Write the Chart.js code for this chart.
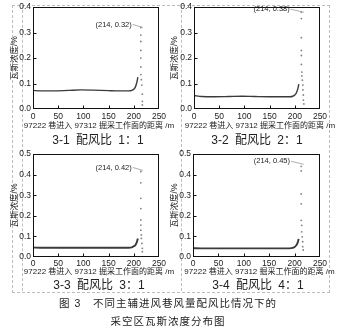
<!DOCTYPE html>
<html>
<head>
<meta charset="utf-8">
<script src="https://cdn.jsdelivr.net/npm/chart.js@4.4.0/dist/chart.umd.min.js"></script>
<style>
body { margin: 0; background: #fff; width: 347px; height: 329px; position: relative; overflow: hidden;
       font-family: 'Liberation Sans', 'Noto Sans CJK SC', sans-serif; }
canvas { position: absolute; }
.dash { position: absolute; border: 0 dashed #bdbdbd; }
.cap { position: absolute; font-size: 12px; color: #222; white-space: nowrap; transform: translateX(-50%); word-spacing: 3px; }
.fig { position: absolute; left: 0; width: 336px; text-align: center; font-size: 10.5px; letter-spacing: 1px; color: #222; white-space: pre; }
</style>
</head>
<body>
<div class="dash" style="left:12px;top:5px;width:316px;height:286px;border-width:1px;"></div>
<div class="dash" style="left:22px;top:5px;height:286px;border-left-width:1px;"></div>
<div class="dash" style="left:181px;top:5px;height:286px;border-left-width:1px;"></div>

<canvas id="c1" width="175" height="132" style="left:0px;top:0px"></canvas>
<canvas id="c2" width="175" height="132" style="left:160px;top:0px"></canvas>
<canvas id="c3" width="175" height="138" style="left:0px;top:140px"></canvas>
<canvas id="c4" width="175" height="138" style="left:160px;top:140px"></canvas>

<div class="cap" style="left:98px;top:130px">3-1 配风比 1：1</div>
<div class="cap" style="left:257px;top:130px">3-2 配风比 2：1</div>
<div class="cap" style="left:99px;top:275px">3-3 配风比 3：1</div>
<div class="cap" style="left:258px;top:275px">3-4 配风比 4：1</div>

<div class="fig" style="top:295px">图 3   不同主辅进风巷风量配风比情况下的</div>
<div class="fig" style="top:313px">采空区瓦斯浓度分布图</div>

<script>
// axis ticks
const xTicks = [0, 50, 100, 150, 200, 250];
const yTicksA = [0, 0.1, 0.2, 0.3, 0.4];
const yTicksB = [0, 0.1, 0.2, 0.3, 0.4, 0.5];

const xTitle = '97222 巷进入 97312 掘采工作面的距离 /m';
const yTitle = '瓦斯浓度/%';

// smooth concentration curve (same x positions for every panel)
const curveX = [0, 15, 40, 70, 95, 120, 150, 175, 190, 196, 200, 203, 205, 207, 208];
const curve1 = [0.073, 0.071, 0.071, 0.073, 0.075, 0.074, 0.072, 0.071, 0.071, 0.073, 0.078, 0.086, 0.097, 0.113, 0.125];
const curve2 = [0.053, 0.049, 0.048, 0.049, 0.050, 0.049, 0.048, 0.048, 0.048, 0.050, 0.055, 0.063, 0.073, 0.088, 0.098];
const curve3 = [0.046, 0.045, 0.045, 0.045, 0.045, 0.045, 0.045, 0.045, 0.045, 0.047, 0.052, 0.058, 0.066, 0.080, 0.090];
const curve4 = [0.043, 0.042, 0.042, 0.042, 0.042, 0.042, 0.042, 0.042, 0.042, 0.044, 0.049, 0.056, 0.064, 0.078, 0.088];

// sparse points near the working face
const dots1X = [214, 214, 214, 214, 214, 214, 214, 215, 216, 217, 217, 217];
const dots1Y = [0.32, 0.29, 0.265, 0.23, 0.2, 0.165, 0.135, 0.115, 0.094, 0.058, 0.03, 0.016];
const dots2X = [213, 213, 213, 213, 213, 213, 214, 214, 215, 216, 216, 217, 217, 218];
const dots2Y = [0.38, 0.355, 0.28, 0.23, 0.21, 0.175, 0.145, 0.13, 0.113, 0.094, 0.075, 0.055, 0.035, 0.02];
const dots3X = [214, 214, 214, 214, 214, 214, 214, 215, 215, 216, 217, 217];
const dots3Y = [0.415, 0.36, 0.285, 0.235, 0.18, 0.155, 0.13, 0.107, 0.09, 0.066, 0.042, 0.026];
const dots4X = [213, 213, 213, 213, 213, 214, 214, 215, 216, 216, 217];
const dots4Y = [0.44, 0.418, 0.306, 0.258, 0.178, 0.154, 0.122, 0.098, 0.074, 0.05, 0.034];

// peak annotation
const peakX = 214;
const peaks = [0.32, 0.38, 0.42, 0.45];

const FONT = "'Liberation Sans', 'Noto Sans CJK SC', sans-serif";

const panels = [
    { id: 'c1', left: 0,   top: 0,   w: 175, h: 132, plot: [33, 7, 159, 109],   yTicks: yTicksA, curve: curve1, dx: dots1X, dy: dots1Y, peak: peaks[0], labelEnd: 196, lw: 1.4, tickPad: 3,   titleGap: 17 },
    { id: 'c2', left: 160, top: 0,   w: 175, h: 132, plot: [194, 7, 320, 109],  yTicks: yTicksA, curve: curve2, dx: dots2X, dy: dots2Y, peak: peaks[1], labelEnd: 190, lw: 1.4, tickPad: 3,   titleGap: 17 },
    { id: 'c3', left: 0,   top: 140, w: 175, h: 138, plot: [33, 154, 159, 257], yTicks: yTicksB, curve: curve3, dx: dots3X, dy: dots3Y, peak: peaks[2], labelEnd: 196, lw: 1.9, tickPad: 1.5, titleGap: 15 },
    { id: 'c4', left: 160, top: 140, w: 175, h: 138, plot: [193, 154, 320, 257], yTicks: yTicksB, curve: curve4, dx: dots4X, dy: dots4Y, peak: peaks[3], labelEnd: 191, lw: 1.9, tickPad: 1.5, titleGap: 15 },
];

// frame, inward ticks, x title and the peak label
const framePlugin = {
    id: 'frame',
    afterDraw(chart, args, opts) {
        const { ctx, chartArea: a, scales: { x, y } } = chart;
        ctx.save();
        ctx.strokeStyle = '#111';
        ctx.lineWidth = 1;
        const L = Math.round(a.left) + 0.5, T = Math.round(a.top) + 0.5;
        const R = Math.round(a.right) - 0.5, B = Math.round(a.bottom) - 0.5;
        ctx.strokeRect(L, T, R - L, B - T);
        ctx.beginPath();
        x.ticks.forEach(t => {
            if (t.value <= x.min || t.value >= x.max) return;
            const px = Math.round(x.getPixelForValue(t.value)) + 0.5;
            ctx.moveTo(px, B); ctx.lineTo(px, B - 3);
        });
        y.ticks.forEach(t => {
            if (t.value <= y.min || t.value >= y.max) return;
            const py = Math.round(y.getPixelForValue(t.value)) + 0.5;
            ctx.moveTo(L, py); ctx.lineTo(L + 3, py);
        });
        ctx.stroke();

        // x axis title, not squeezed to the plot width
        ctx.font = '8px ' + FONT;
        ctx.fillStyle = '#222';
        ctx.textAlign = 'center';
        ctx.textBaseline = 'middle';
        ctx.fillText(xTitle, (a.left + a.right) / 2 + 3, a.bottom + opts.titleGap);

        // annotation
        const px = x.getPixelForValue(peakX), py = y.getPixelForValue(opts.peak);
        const lx = x.getPixelForValue(opts.labelEnd);
        ctx.font = '7.5px ' + FONT;
        ctx.textAlign = 'right';
        ctx.fillText('(' + peakX + ', ' + opts.peak.toFixed(2) + ')', lx, py - 3);
        ctx.strokeStyle = '#999';
        ctx.lineWidth = 0.8;
        ctx.beginPath();
        ctx.moveTo(lx + 1, py - 3);
        ctx.lineTo(px + 2, py);
        ctx.stroke();
        ctx.restore();
    }
};

panels.forEach(p => {
    const yAxisW = p.plot[0] - p.left;
    const padTop = p.plot[1] - p.top;
    const padRight = p.left + p.w - p.plot[2];
    const xAxisH = p.top + p.h - p.plot[3];
    const yMax = p.yTicks[p.yTicks.length - 1];

    new Chart(document.getElementById(p.id).getContext('2d'), {
        type: 'scatter',
        data: {
            datasets: [
                {
                    data: curveX.map((v, i) => ({ x: v, y: p.curve[i] })),
                    showLine: true,
                    borderColor: '#3a3a3a',
                    borderWidth: p.lw,
                    pointRadius: 0,
                    cubicInterpolationMode: 'monotone',
                },
                {
                    data: p.dx.map((v, i) => ({ x: v, y: p.dy[i] })),
                    showLine: false,
                    pointRadius: 0.9,
                    pointBorderWidth: 0,
                    backgroundColor: '#808080',
                    borderColor: '#808080',
                },
            ],
        },
        options: {
            responsive: false,
            animation: false,
            layout: { padding: { top: padTop, right: padRight, left: 0, bottom: 0 } },
            plugins: {
                legend: { display: false },
                tooltip: { enabled: false },
                frame: { peak: p.peak, labelEnd: p.labelEnd, titleGap: p.titleGap },
            },
            scales: {
                x: {
                    type: 'linear',
                    min: 0, max: 250,
                    grid: { display: false, drawTicks: false },
                    border: { display: false },
                    afterBuildTicks: s => { s.ticks = xTicks.map(v => ({ value: v })); },
                    afterFit: s => { s.height = xAxisH; },
                    ticks: { color: '#222', padding: p.tickPad, maxRotation: 0, font: { size: 8.5, family: FONT } },
                },
                y: {
                    min: 0, max: yMax,
                    grid: { display: false, drawTicks: false },
                    border: { display: false },
                    afterBuildTicks: s => { s.ticks = p.yTicks.map(v => ({ value: v })); },
                    afterFit: s => { s.width = yAxisW; },
                    ticks: { color: '#222', padding: 2, font: { size: 8.5, family: FONT }, callback: v => v.toFixed(1) },
                    title: { display: true, text: yTitle, color: '#222', padding: { top: 10, bottom: 0 }, font: { size: 8.5, family: FONT } },
                },
            },
        },
        plugins: [framePlugin],
    });
});
</script>
</body>
</html>
